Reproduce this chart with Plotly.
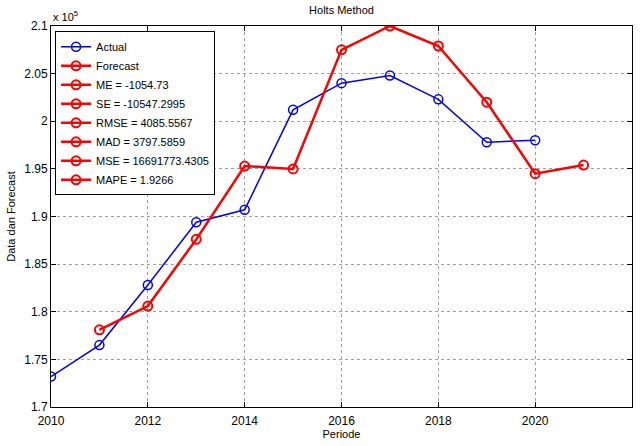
import plotly.graph_objects as go

years_actual = [2010, 2011, 2012, 2013, 2014, 2015, 2016, 2017, 2018, 2019, 2020]
actual = [173200, 176500, 182800, 189400, 190700, 201200, 204000, 204800, 202300, 197800, 198000]
years_forecast = [2011, 2012, 2013, 2014, 2015, 2016, 2017, 2018, 2019, 2020, 2021]
forecast = [178100, 180600, 187600, 195300, 195000, 207500, 210000, 207900, 202000, 194500, 195400]
stats_labels = ["ME = -1054.73", "SE = -10547.2995", "RMSE = 4085.5567", "MAD = 3797.5859",
                "MSE = 16691773.4305", "MAPE = 1.9266"]
y_tickvals = [170000, 175000, 180000, 185000, 190000, 195000, 200000, 205000, 210000]
y_ticktext = ["1.7", "1.75", "1.8", "1.85", "1.9", "1.95", "2", "2.05", "2.1"]
x_tickvals = [2010, 2012, 2014, 2016, 2018, 2020, 2022]

fig = go.Figure()
fig.add_trace(go.Scatter(x=years_actual, y=actual, mode="lines+markers", name="Actual",
                         line=dict(color="#0000ff", width=1.5),
                         marker=dict(symbol="circle-open", size=9, color="#0000ff", line=dict(width=1.5))))
fig.add_trace(go.Scatter(x=years_forecast, y=forecast, mode="lines+markers", name="Forecast",
                         line=dict(color="#ff0000", width=2.5),
                         marker=dict(symbol="circle-open", size=9, color="#ff0000", line=dict(width=2))))
for lab in stats_labels:
    fig.add_trace(go.Scatter(x=[None], y=[None], mode="lines+markers", name=lab,
                             line=dict(color="#ff0000", width=2.5),
                             marker=dict(symbol="circle-open", size=9, color="#ff0000", line=dict(width=2))))

axis_common = dict(showline=True, linecolor="black", linewidth=1, mirror="ticks",
                   ticks="inside", ticklen=5, tickcolor="black",
                   showgrid=True, gridcolor="#a0a0a0", griddash="dot", gridwidth=1,
                   zeroline=False, tickfont=dict(size=12, color="black"))

fig.update_layout(
    width=640, height=446,
    margin=dict(l=51, r=8, t=26, b=39),
    paper_bgcolor="white", plot_bgcolor="white",
    font=dict(family="Liberation Sans, Arial, sans-serif", size=12, color="black"),
    title=dict(text="Holts Method", x=0.5, xref="paper", y=1, yref="container", yanchor="top",
               pad=dict(t=6), font=dict(size=11)),
    showlegend=True,
    legend=dict(x=0.007, y=0.986, xanchor="left", yanchor="top", bgcolor="white",
                bordercolor="black", borderwidth=1, font=dict(size=11),
                itemwidth=30, tracegroupgap=0),
    xaxis=dict(range=[2010, 2022], tickvals=x_tickvals, ticklabelstandoff=3,
               title=dict(text="Periode", font=dict(size=11), standoff=2), **axis_common),
    yaxis=dict(range=[170000, 210000], tickvals=y_tickvals, ticktext=y_ticktext,
               title=dict(text="Data dan Forecast", font=dict(size=11), standoff=6), **axis_common),
)
fig.add_annotation(text="x 10<sup>5</sup>", xref="paper", yref="paper", x=0, y=1.0,
                   xanchor="left", yanchor="bottom", showarrow=False, font=dict(size=11), yshift=1)

fig.write_html("out.html")
